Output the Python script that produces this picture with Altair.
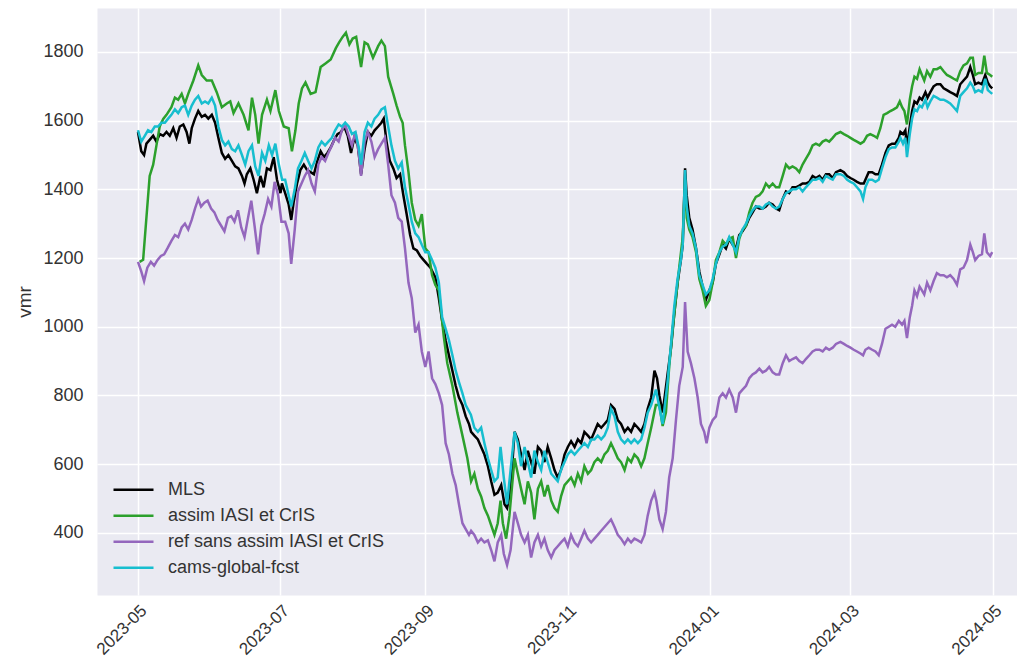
import altair as alt
import pandas as pd

BASE = pd.Timestamp("2023-05-01")

series_names = ["MLS", "assim IASI et CrIS", "ref sans assim IASI et CrIS", "cams-global-fcst"]
series_colors = ["#000000", "#2ca02c", "#9467bd", "#17becf"]

# day offsets from 2023-05-01 and values
mls_day = [0, 1.4, 2.6, 3.6, 5, 6.5, 7.9, 9.3, 10.8, 12.2, 13.6, 15.1, 16.5, 17.9, 19.4, 20.8, 22, 23, 24.4, 25.8, 27.3, 28.7, 30.1, 31.6, 33, 34.4, 35.9, 37.3, 38.7, 40.2, 41.6, 43, 44.5, 45.6, 46.6, 48.1, 49.5, 50.9, 52.4, 53.8, 55.2, 56.7, 58.1, 59.5, 61,
           61.6, 63, 64.5, 65.6, 66.6, 68.1, 69.5, 71, 72.4, 73.9, 75.3, 76.8, 78.2, 79.6, 81.1, 82.5, 84, 85.4, 86.9, 88.3, 89.8, 91.2, 92.6, 94.1, 95.5, 97, 98.4, 99.9, 101.3, 102.8, 104.2, 105.2, 106.4, 107.8, 109.3, 110.7, 112.2, 113.6, 115, 116.5, 117.9, 119.4, 120.8, 122.3, 123.7, 125.2, 127.3, 128.8, 130.2, 131.7, 133.1, 134.6, 136, 137.4, 138.9, 140.3, 141.7,
           142.6, 144, 145.5, 146.9, 148.3, 149.8, 151.2, 152.6, 154, 155.5, 156.9, 158, 159.5, 161.2, 162.6, 164, 165.5, 166.9, 168.3, 169.7, 171.2, 172.6, 174, 175.4, 176.9, 178.3, 179.7, 181.1, 182.6, 184, 185.4, 186.9, 188.3, 189.7, 191.1, 192.6, 194, 195.4, 196.8, 198.3, 199.7, 201.1, 202.5, 204, 205.4, 206.8, 208.3, 209.7, 211.1, 212.5, 214, 215.4, 216.8, 218.2, 219.7, 221.1,
           222.2, 223.2, 224.6, 226.7, 228.2, 229.6, 231, 232.4, 233.2, 234.2, 234.9, 236, 237.4, 238.9, 240.3, 241.7, 243.1, 244.6, 246, 247.4, 248.9, 250.3, 251.7, 253.1, 254.6, 256, 257.4, 258.8, 260.3, 261.7, 263.1, 264.5, 266, 267.4, 268.8, 270.2, 271.7, 273.1, 274.5, 276, 277.4, 278.8, 280.2, 281.7, 283.1, 284.5, 285.9, 287.4, 288.8, 290.2, 291.7, 293.1, 294.5, 295.9, 297.4, 298.8,
           300.7, 302.2, 303.6, 305, 306.4, 307.8, 309.3, 310.7, 311.4, 312.8, 314.3, 315.7, 317.1, 318.5, 320, 321.4, 322.8, 324.2, 325.7, 326.4, 327.5, 328.5, 329.2, 330.4, 331.4, 332.4, 333.5, 334.6, 335.6, 337.1, 338, 339.2, 340.6, 342, 343.5, 344.9, 346.3, 347.7, 349.2, 350.6, 352, 353.4, 354.9, 356.3, 357.4, 358.4, 359.8, 361.3, 362.7, 363.8, 364.8, 365.7]
mls_val = [1567, 1511, 1500, 1533, 1544, 1556, 1539, 1561, 1556, 1567, 1556, 1578, 1550, 1583, 1589, 1567, 1533, 1578, 1606, 1628, 1611, 1617, 1606, 1617, 1594, 1550, 1506, 1489, 1500, 1483, 1467, 1461, 1439, 1417, 1444, 1461, 1428, 1389, 1439, 1406, 1461, 1456, 1494, 1428, 1389,
           1417, 1389, 1356, 1311, 1361, 1417, 1456, 1472, 1456, 1450, 1444, 1483, 1511, 1494, 1506, 1522, 1544, 1561, 1567, 1583, 1556, 1506, 1550, 1528, 1444, 1517, 1567, 1556, 1572, 1583, 1594, 1606, 1539, 1483, 1461, 1433, 1444, 1383, 1328, 1267, 1228, 1222, 1206, 1194, 1183, 1172, 1144, 1083, 1017, 961, 917, 872, 828, 794, 772, 739, 717,
           694, 683, 672, 650, 628, 594, 550, 511, 517, 539, 483, 472, 528, 694, 672, 628, 583, 639, 606, 572, 650, 639, 606, 650, 617, 583, 561, 583, 628, 650, 667, 650, 672, 661, 694, 683, 672, 694, 717, 706, 717, 728, 772, 761, 728, 717, 694, 706, 694, 717, 706, 694, 717, 761, 794, 872,
           850, 800, 750, 861, 939, 1039, 1128, 1194, 1239, 1461, 1383, 1317, 1283, 1228, 1161, 1117, 1078, 1106, 1128, 1183, 1211, 1239, 1228, 1256, 1239, 1228, 1267, 1278, 1294, 1317, 1333, 1350, 1344, 1344, 1350, 1361, 1356, 1344, 1339, 1372, 1394, 1389, 1406, 1406, 1411, 1417, 1417, 1422, 1439, 1433, 1439, 1428, 1444, 1444, 1433, 1450,
           1456, 1450, 1439, 1433, 1428, 1422, 1417, 1417, 1428, 1450, 1450, 1444, 1444, 1472, 1506, 1528, 1533, 1533, 1550, 1567, 1561, 1572, 1522, 1583, 1628, 1656, 1650, 1667, 1661, 1683, 1667, 1683, 1700, 1706, 1706, 1694, 1689, 1683, 1678, 1672, 1706, 1717, 1728, 1756, 1733, 1706, 1711, 1706, 1733, 1711, 1700, 1694]

assim_day = [0.7, 2.2, 5, 6.5, 7.9, 9.3, 10.8, 12.2, 14.3, 15.8, 17.2, 18.7, 20.1, 21.5, 23.7, 25.8, 27.3, 29.4, 31.6, 33.7, 35.9, 38, 39.5, 40.9, 43, 45.2, 47.3, 48.8, 50.2, 51.6, 53.1, 55.2, 56.7, 58.8, 60.3, 62.4,
             64.5, 65.9, 67.4, 68.8, 70.2, 71.7, 73.9, 76, 78.2, 80.4, 82.5, 84.7, 86.1, 87.6, 89, 90.5, 91.9, 93.4, 95.5, 97, 98.4, 100.6, 102.8, 104.2, 105.7, 107.1, 109.3, 110.7, 112.2, 113.3, 114.3, 115.8, 117.2, 118.7, 120.1, 121.5, 123, 124.4, 125.9, 127.3, 128.8, 130.9, 132.4, 134.6, 136.7, 138.9, 141,
             142.6, 144, 145.5, 146.9, 148.3, 149.8, 151.2, 152.6, 154, 155.2, 156.2, 157.6, 159, 161.2, 162.6, 164, 165.5, 166.9, 168.3, 169.7, 171.2, 172.6, 174, 175.4, 176.9, 178.3, 179.7, 181.1, 182.6, 184, 185.4, 186.9, 188.3, 189.7, 191.1, 192.6, 194, 195.4, 196.8, 198.3, 199.7, 201.1, 202.5, 204, 205.4, 206.8, 208.3, 209.7, 211.1, 212.5, 214, 215.4, 216.8, 218.2, 219.7,
             221.7, 223.2, 224.6, 226, 227.4, 228.9, 230.3, 231.7, 233.2, 234.2, 234.9, 236, 237.4, 238.9, 240.3, 241.7, 243.1, 244.6, 246, 247.4, 248.9, 250.3, 251.7, 253.1, 254.6, 256, 257.4, 258.8, 260.3, 261.7, 263.1, 264.5, 266, 267.4, 268.8, 270.2, 271.7, 273.1, 274.5, 276, 277.4, 278.8, 280.2, 281.7, 283.1, 284.5, 285.9, 287.4, 288.8, 290.2, 291.7, 293.1, 294.5, 295.9, 297.4, 298.8,
             300.7, 302.2, 303.6, 305, 306.4, 307.8, 309.3, 310.7, 312.1, 313.5, 315, 316.4, 317.8, 319.2, 320.7, 322.1, 323.5, 324.9, 326.1, 327.1, 328.1, 329.2, 330.4, 331.4, 332.4, 333.5, 334.6, 335.6, 336.6, 337.8, 339.2, 340.6, 342, 343.5, 344.9, 346.3, 347.7, 349.2, 350.6, 352, 353.4, 354.9, 356.3, 357.4, 358.4, 359.8, 361.3, 362.3, 363.4, 364.8, 365.7]
assim_val = [1189, 1195, 1439, 1472, 1528, 1583, 1605, 1617, 1639, 1667, 1661, 1678, 1650, 1678, 1717, 1761, 1733, 1717, 1717, 1683, 1639, 1650, 1656, 1622, 1650, 1617, 1572, 1667, 1617, 1533, 1617, 1661, 1628, 1689, 1628, 1583,
             1578, 1511, 1572, 1650, 1694, 1711, 1678, 1683, 1756, 1767, 1778, 1811, 1828, 1844, 1856, 1822, 1839, 1844, 1756, 1828, 1822, 1783, 1817, 1833, 1817, 1728, 1678, 1644, 1611, 1594, 1528, 1450, 1361, 1311, 1294, 1328, 1228, 1217, 1150, 1122, 1106, 972, 894, 828, 750, 683, 617,
             550, 572, 528, 506, 472, 450, 422, 394, 428, 494, 428, 383, 450, 617, 572, 528, 483, 550, 517, 439, 528, 550, 506, 539, 494, 472, 461, 506, 539, 550, 561, 539, 572, 550, 594, 572, 583, 606, 617, 606, 628, 639, 661, 639, 617, 606, 583, 617, 606, 628, 617, 594, 617, 661, 706,
             772, 772, 711, 750, 883, 994, 1083, 1172, 1261, 1428, 1317, 1283, 1261, 1217, 1139, 1106, 1061, 1078, 1128, 1194, 1217, 1250, 1239, 1256, 1261, 1200, 1256, 1283, 1294, 1333, 1361, 1378, 1383, 1394, 1417, 1406, 1417, 1406, 1406, 1439, 1472, 1461, 1467, 1461, 1450, 1472, 1489, 1506, 1528, 1533, 1528, 1539, 1544, 1539, 1550, 1561,
             1567, 1561, 1556, 1550, 1544, 1539, 1533, 1539, 1556, 1561, 1556, 1550, 1578, 1617, 1622, 1628, 1633, 1639, 1656, 1639, 1628, 1589, 1661, 1700, 1728, 1722, 1750, 1733, 1717, 1744, 1728, 1750, 1750, 1756, 1744, 1733, 1728, 1722, 1717, 1744, 1761, 1767, 1783, 1783, 1733, 1739, 1739, 1789, 1739, 1733, 1728]

ref_day = [0, 1.4, 2.6, 4, 5.5, 6.9, 8.3, 9.8, 11.2, 12.6, 14.3, 15.8, 17.2, 18.7, 20.1, 21.5, 23, 24.4, 25.8, 27, 28.4, 29.8, 31.3, 32.7, 34.1, 35.6, 37, 38.5, 39.9, 41.3, 42.8, 44.2, 45.6, 47.1, 48.5, 49.9, 51.4, 52.8, 54.2, 55.7, 57.1, 58.5, 60, 61.4,
           63, 64.5, 65.6, 67.1, 68.5, 70, 71.4, 72.8, 74.3, 75.7, 77.2, 78.6, 80.1, 81.5, 83, 84.4, 85.9, 87.3, 88.7, 90.2, 91.6, 93.1, 94.5, 95.5, 97, 98.4, 99.9, 101.3, 102.8, 104.2, 105.7, 107.1, 108.5, 110, 111.4, 112.9, 114.3, 115.8, 117.2, 118.7, 120.1, 121.5, 123, 124.4, 125.9, 127.3, 128.8, 130.2, 131.7, 133.1, 134.6, 136, 137.4, 138.9, 140.3, 141.7,
           142.6, 144, 145.5, 146.9, 148.3, 149.8, 151.2, 152.6, 154, 155.5, 156.6, 158, 159.5, 161.2, 162.6, 164, 165.5, 166.9, 168.3, 169.7, 171.2, 172.6, 174, 175.4, 176.9, 178.3, 179.7, 181.1, 182.6, 184, 185.4, 186.9, 188.3, 189.7, 191.1, 192.6, 194, 195.4, 196.8, 198.3, 199.7, 201.1, 202.5, 204, 205.4, 206.8, 208.3, 209.7, 211.1, 212.5, 214, 215.4, 216.8, 218.2, 219.7, 221.1,
           221.9, 223.2, 224.6, 226, 227.4, 228.9, 230.3, 231.7, 233.2, 234.2, 235.3, 236.7, 238.2, 239.6, 241, 242.4, 243.4, 244.6, 246, 247.4, 248.9, 250.3, 251.7, 253.1, 254.6, 256, 257.4, 258.8, 260.3, 261.7, 263.1, 264.5, 266, 267.4, 268.8, 270.2, 271.7, 273.1, 274.5, 276, 277.4, 278.8, 280.2, 281.7, 283.1, 284.5, 285.9, 287.4, 288.8, 290.2, 291.7, 293.1, 294.5, 295.9, 297.4, 298.8,
           300.7, 302.2, 303.6, 305, 306.4, 307.8, 309.3, 310.4, 311.4, 312.8, 314.3, 315.7, 317.1, 318.5, 320, 321.4, 322.8, 324.2, 325.7, 327.1, 328.1, 329.2, 330.4, 331.4, 332.4, 333.5, 334.6, 335.6, 336.6, 337.8, 339.2, 340.6, 342, 343.5, 344.9, 346.3, 347.7, 349.2, 350.6, 352, 353.4, 354.9, 356.3, 357.4, 358.4, 359.8, 361.3, 362.3, 363.4, 364.8, 365.7]
ref_val = [1189, 1161, 1133, 1172, 1189, 1178, 1194, 1206, 1211, 1228, 1250, 1267, 1261, 1289, 1300, 1283, 1311, 1344, 1372, 1350, 1361, 1367, 1344, 1333, 1311, 1294, 1278, 1317, 1322, 1306, 1339, 1289, 1261, 1317, 1367, 1294, 1211, 1294, 1328, 1372, 1350, 1422, 1383, 1306,
           1306, 1272, 1183, 1283, 1394, 1417, 1439, 1456, 1417, 1394, 1472, 1494, 1483, 1506, 1528, 1550, 1539, 1572, 1589, 1556, 1528, 1567, 1506, 1439, 1539, 1567, 1539, 1494, 1517, 1533, 1550, 1472, 1383, 1361, 1317, 1306, 1228, 1128, 1083, 983, 1006, 928, 883, 928, 850, 833, 806, 772, 661, 628, 572, 539, 483, 428, 411, 394,
           406, 394, 372, 383, 372, 378, 350, 317, 372, 394, 339, 306, 350, 461, 428, 394, 372, 394, 328, 372, 394, 361, 383, 350, 328, 350, 361, 372, 383, 361, 394, 372, 361, 383, 406, 383, 372, 383, 394, 406, 417, 428, 439, 417, 394, 383, 367, 383, 372, 383, 378, 372, 394, 450, 494, 517,
           494, 439, 411, 461, 561, 617, 728, 828, 883, 1072, 928, 894, 850, 794, 717, 694, 661, 706, 728, 739, 794, 806, 794, 817, 794, 750, 806, 817, 828, 850, 861, 867, 878, 867, 872, 883, 867, 861, 861, 894, 917, 900, 906, 911, 900, 894, 906, 917, 928, 933, 933, 928, 939, 933, 939, 950,
           956, 950, 944, 939, 933, 928, 922, 917, 933, 939, 933, 928, 917, 950, 994, 1000, 1006, 1000, 1017, 1006, 1017, 967, 1028, 1061, 1106, 1089, 1117, 1106, 1094, 1128, 1106, 1133, 1156, 1150, 1150, 1144, 1150, 1139, 1122, 1167, 1172, 1194, 1239, 1217, 1194, 1206, 1211, 1272, 1217, 1206, 1217]

cams_day = [0, 1.4, 2.9, 4.3, 5.7, 7.2, 8.6, 10, 11.5, 12.9, 14.3, 15.8, 17.2, 18.7, 20.1, 21.5, 23, 24.4, 25.8, 27.3, 28.7, 30.1, 31.6, 33, 34.4, 35.9, 37.3, 38.7, 40.2, 41.6, 43, 44.5, 45.9, 47.3, 48.8, 50.2, 51.6, 53.1, 54.5, 56, 57.4, 58.8, 60.3, 61.7,
            63, 64.5, 65.6, 67.1, 68.5, 70, 71.4, 72.8, 74.3, 75.7, 77.2, 78.6, 80.1, 81.5, 83, 84.4, 85.9, 87.3, 88.7, 90.2, 91.6, 93.1, 94.5, 95.5, 97, 98.4, 99.9, 101.3, 102.8, 104.2, 105.7, 107.1, 108.5, 110, 111.4, 112.9, 114.3, 115.8, 117.2, 118.7, 120.1, 121.5, 123, 124.4, 125.9, 127.3, 128.8, 130.2, 131.7, 133.1, 134.6, 136, 137.4, 138.9, 140.3, 142.5,
            144, 145.5, 146.9, 148.3, 149.8, 151.2, 152.6, 154, 155.2, 156.6, 158, 159.5, 161.2, 162.6, 164, 165.5, 166.9, 168.3, 169.7, 171.2, 172.6, 174, 175.4, 176.9, 178.3, 179.7, 181.1, 182.6, 184, 185.4, 186.9, 188.3, 189.7, 191.1, 192.6, 194, 195.4, 196.8, 198.3, 199.7, 201.1, 202.5, 204, 205.4, 206.8, 208.3, 209.7, 211.1, 212.5, 214, 215.4, 216.8, 218.2, 219.7,
            221.7, 224.6, 226.7, 228.2, 229.6, 231, 232.4, 233.2, 234.2, 234.9, 236, 237.4, 238.9, 240.3, 241.7, 243.1, 244.6, 246, 247.4, 248.9, 250.3, 251.7, 253.1, 254.6, 256, 257.4, 258.8, 260.3, 261.7, 263.1, 264.5, 266, 267.4, 268.8, 270.2, 271.7, 273.1, 274.5, 276, 277.4, 278.8, 280.2, 281.7, 283.1, 284.5, 285.9, 287.4, 288.8, 290.2, 291.7, 293.1, 294.5, 295.9, 297.4, 298.8,
            300.7, 302.2, 303.6, 305, 306.4, 307.8, 309.3, 310.4, 311.4, 312.8, 314.3, 315.7, 317.1, 318.5, 320, 321.4, 322.8, 324.2, 325.7, 326.4, 327.5, 328.5, 329.2, 330.4, 331.4, 332.4, 333.5, 334.6, 335.6, 337.1, 338, 339.2, 340.6, 342, 343.5, 344.9, 346.3, 347.7, 349.2, 350.6, 352, 353.4, 354.9, 356.3, 357.4, 358.4, 359.8, 361.3, 362.7, 363.8, 364.8, 365.7]
cams_val = [1572, 1539, 1556, 1572, 1567, 1583, 1583, 1594, 1594, 1606, 1617, 1633, 1622, 1639, 1644, 1617, 1644, 1661, 1672, 1650, 1656, 1650, 1667, 1644, 1583, 1544, 1528, 1539, 1517, 1511, 1528, 1500, 1472, 1511, 1528, 1467, 1439, 1506, 1483, 1528, 1500, 1533, 1472, 1428,
            1428, 1383, 1350, 1400, 1461, 1483, 1506, 1483, 1461, 1483, 1522, 1539, 1528, 1539, 1550, 1572, 1589, 1583, 1594, 1583, 1561, 1567, 1522, 1472, 1567, 1594, 1583, 1606, 1617, 1633, 1639, 1583, 1528, 1483, 1461, 1478, 1406, 1356, 1306, 1272, 1261, 1239, 1217, 1217, 1194, 1172, 1128, 1028, 994, 961, 917, 872, 839, 806, 772, 744,
            706, 694, 706, 661, 617, 583, 550, 561, 650, 561, 483, 583, 694, 661, 594, 650, 606, 561, 639, 606, 583, 639, 606, 572, 561, 550, 583, 606, 628, 639, 628, 639, 650, 661, 650, 672, 672, 683, 672, 683, 706, 761, 739, 694, 672, 661, 672, 661, 672, 661, 672, 706, 750, 772,
            817, 717, 839, 950, 1061, 1139, 1194, 1239, 1456, 1350, 1294, 1272, 1228, 1150, 1122, 1094, 1106, 1139, 1183, 1217, 1233, 1239, 1261, 1239, 1217, 1261, 1283, 1300, 1322, 1339, 1350, 1350, 1344, 1356, 1361, 1350, 1344, 1350, 1372, 1389, 1394, 1400, 1400, 1406, 1394, 1406, 1417, 1428, 1428, 1433, 1422, 1439, 1433, 1428, 1444,
            1444, 1439, 1428, 1422, 1417, 1406, 1394, 1372, 1406, 1428, 1428, 1422, 1428, 1461, 1494, 1517, 1522, 1522, 1539, 1550, 1533, 1550, 1494, 1561, 1606, 1633, 1628, 1644, 1639, 1661, 1639, 1656, 1672, 1667, 1661, 1661, 1656, 1650, 1639, 1628, 1672, 1683, 1694, 1711, 1700, 1683, 1689, 1683, 1722, 1689, 1683, 1678]

y_ticks = [400, 600, 800, 1000, 1200, 1400, 1600, 1800]
x_tick_months = [(2023, 5), (2023, 7), (2023, 9), (2023, 11), (2024, 1), (2024, 3), (2024, 5)]


def frame(name, days, vals):
    dates = [(BASE + pd.to_timedelta(d, unit="D")).strftime("%Y-%m-%dT%H:%M:%S") for d in days]
    return pd.DataFrame({"date": dates, "vmr": vals, "series": name})


df = pd.concat([
    frame(series_names[0], mls_day, mls_val),
    frame(series_names[1], assim_day, assim_val),
    frame(series_names[2], ref_day, ref_val),
    frame(series_names[3], cams_day, cams_val),
], ignore_index=True)
df["order"] = df["series"].map({n: i for i, n in enumerate(series_names)})

FONT = "Liberation Sans"
TXT = "#333333"

x_values = [alt.DateTime(year=y, month=m, date=1) for y, m in x_tick_months]

chart = alt.Chart(df).mark_line(strokeWidth=2.5).encode(
    x=alt.X(
        "date:T",
        title=None,
        scale=alt.Scale(domain=[alt.DateTime(year=2023, month=4, date=13, hours=10, minutes=48),
                                alt.DateTime(year=2024, month=5, date=11, hours=7, minutes=12)]),
        axis=alt.Axis(values=x_values, format="%Y-%m", labelAngle=315, labelAlign="right",
                      labelBaseline="top", labelPadding=7, labelFontSize=17,
                      labelFont=FONT, labelColor=TXT, ticks=False, domain=False,
                      grid=True, gridColor="white", gridWidth=1.5, gridOpacity=1, labelFlush=False),
    ),
    y=alt.Y(
        "vmr:Q",
        title="vmr",
        scale=alt.Scale(domain=[219, 1928], nice=False, zero=False),
        axis=alt.Axis(values=y_ticks, format="d", labelFontSize=18, labelFont=FONT, labelColor=TXT,
                      labelPadding=14, ticks=False, domain=False, grid=True,
                      gridColor="white", gridWidth=1.5, gridOpacity=1, titleFont=FONT, titleFontSize=19,
                      titleFontWeight="normal", titleColor=TXT, titlePadding=8),
    ),
    color=alt.Color(
        "series:N",
        scale=alt.Scale(domain=series_names, range=series_colors),
        legend=alt.Legend(title=None, orient="none", legendX=15, legendY=469,
                          symbolType="stroke", symbolSize=1600, symbolStrokeWidth=2.5,
                          labelFontSize=18, labelFont=FONT, labelColor=TXT, labelLimit=0,
                          labelOffset=13, rowPadding=0, clipHeight=25.5, padding=0),
    ),
    order=alt.Order("order:Q"),
    detail="series:N",
).properties(
    width=920,
    height=587,
    padding={"left": 89, "top": 0, "right": 0, "bottom": 63},
    autosize=alt.AutoSizeParams(type="none"),
    background="white",
).configure_view(fill="#EAEAF2", stroke="transparent")

chart.save("out.html", embed_options={"renderer": "svg", "actions": False})
